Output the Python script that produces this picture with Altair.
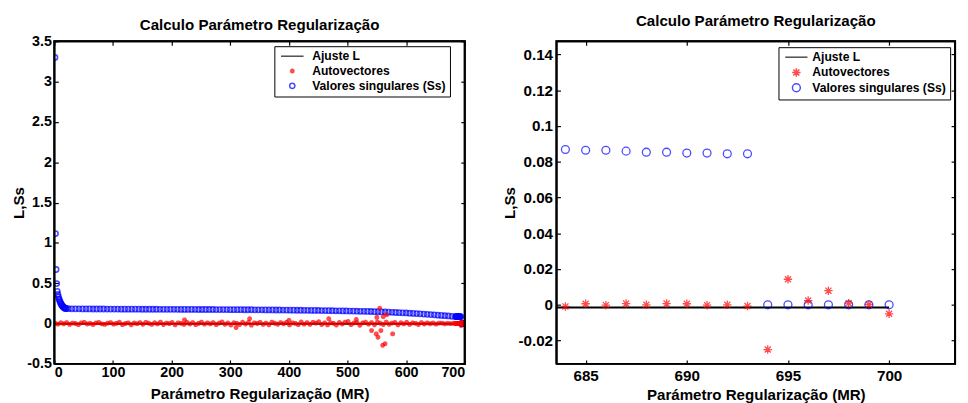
import altair as alt
import pandas as pd

FONT = "Liberation Sans"
SERIES = ["Ajuste L", "Autovectores", "Valores singulares (Ss)"]
COLORS = ["#000000", "#ff0000", "#0000ff"]
TITLE = "Calculo Parámetro Regularização"
XTITLE = "Parámetro Regularização (MR)"
YTITLE = "L,Ss"

# ---- Ajuste L (fitted line) ----
fit_x = [1, 700]
fit_y = [-0.0015, -0.0015]

# ---- Valores singulares (Ss) ----
ss_x_head = list(range(1, 21))
ss_y_head = [3.30, 1.115, 0.67, 0.495, 0.40, 0.36, 0.33, 0.305, 0.285, 0.265,
             0.25, 0.237, 0.225, 0.215, 0.207, 0.20, 0.195, 0.191, 0.188, 0.186]
ss_x_body = list(range(24, 679, 6))
ss_y_body = [0.184, 0.183, 0.182, 0.182, 0.181, 0.181, 0.181, 0.180, 0.180, 0.180,
             0.180, 0.179, 0.179, 0.179, 0.179, 0.178, 0.178, 0.178, 0.178, 0.178,
             0.178, 0.177, 0.177, 0.177, 0.177, 0.177, 0.176, 0.176, 0.176, 0.176,
             0.176, 0.176, 0.175, 0.175, 0.175, 0.175, 0.175, 0.174, 0.174, 0.174,
             0.174, 0.174, 0.173, 0.173, 0.173, 0.173, 0.172, 0.172, 0.172, 0.172,
             0.171, 0.171, 0.171, 0.170, 0.170, 0.170, 0.169, 0.169, 0.169, 0.168,
             0.168, 0.167, 0.167, 0.166, 0.166, 0.165, 0.165, 0.164, 0.164, 0.163,
             0.163, 0.162, 0.161, 0.161, 0.160, 0.159, 0.158, 0.158, 0.157, 0.156,
             0.155, 0.154, 0.153, 0.152, 0.151, 0.150, 0.149, 0.147, 0.146, 0.144,
             0.143, 0.141, 0.139, 0.137, 0.135, 0.133, 0.131, 0.128, 0.126, 0.123,
             0.120, 0.117, 0.114, 0.111, 0.108, 0.104, 0.101, 0.097, 0.094, 0.090]
ss_x_tail = list(range(684, 701))
ss_y_tail = [0.0868, 0.0864, 0.0864, 0.0859, 0.0853, 0.0853, 0.0848, 0.0848, 0.0844, 0.0844,
             0.0, 0.0, 0.0, 0.0, 0.0, 0.0, 0.0]

# ---- Autovectores ----
av_x_body = list(range(1, 682, 5))
av_y_body = [0.004, -0.008, 0.010, -0.003, 0.012, -0.011, 0.006, 0.000, -0.014, 0.009,
             0.015, -0.006, 0.002, -0.012, 0.008, 0.013, -0.004, -0.010, 0.005, 0.011,
             -0.007, 0.003, 0.016, -0.013, 0.001, 0.009, -0.015, 0.007, -0.002, 0.012,
             -0.009, 0.014, 0.004, -0.011, 0.010, -0.005, 0.018, -0.012, 0.006, -0.001,
             0.013, -0.016, 0.008, 0.003, -0.010, 0.015, -0.006, 0.011, -0.013, 0.002,
             0.017, -0.008, 0.009, -0.004, 0.012, -0.014, 0.005, 0.020, -0.009, 0.007,
             -0.018, 0.010, 0.003, -0.012, 0.016, -0.006, 0.013, -0.020, 0.008, 0.001,
             0.014, -0.011, 0.006, -0.015, 0.018, 0.004, -0.009, 0.012, -0.003, 0.015,
             -0.017, 0.009, 0.002, -0.013, 0.019, -0.007, 0.011, -0.010, 0.014, 0.005,
             0.022, -0.012, 0.008, -0.016, 0.010, 0.003, -0.019, 0.013, -0.006, 0.017,
             0.025, -0.014, 0.007, 0.012, -0.021, 0.009, 0.016, -0.008, 0.011, -0.015,
             0.020, 0.004, -0.012, 0.018, -0.009, 0.006, 0.013, -0.017, 0.010, -0.004,
             0.014, -0.010, 0.008, 0.003, -0.012, 0.011, -0.006, 0.009, -0.003, 0.007,
             -0.008, 0.005, 0.006, -0.004, 0.003, -0.002, 0.004]
av_x_spikes = [222, 310, 333, 400, 468, 515, 541, 549, 550, 552, 555, 557, 560, 561, 564, 567, 577]
av_y_spikes = [0.045, -0.05, 0.06, 0.04, 0.06, 0.05, -0.087, -0.128, 0.076, -0.17, 0.19, -0.087,
               -0.27, 0.085, -0.25, 0.11, -0.128]
av_x_tail = list(range(684, 701))
av_y_tail = [-0.0009, 0.0006, -0.0002, 0.0007, 0.0, 0.0007, 0.0006, -0.0002, 0.0, -0.0007,
             -0.025, 0.0143, 0.0024, 0.0079, 0.0009, 0.0002, -0.005]

rows = []
for xs_, ys_ in [(ss_x_head, ss_y_head), (ss_x_body, ss_y_body), (ss_x_tail, ss_y_tail)]:
    rows += [{"x": a, "y": b, "series": SERIES[2]} for a, b in zip(xs_, ys_)]
for xs_, ys_ in [(av_x_body, av_y_body), (av_x_spikes, av_y_spikes), (av_x_tail, av_y_tail)]:
    rows += [{"x": a, "y": b, "series": SERIES[1]} for a, b in zip(xs_, ys_)]
df_pts = pd.DataFrame(rows)
df_fit = pd.DataFrame({"x": fit_x, "y": fit_y, "series": SERIES[0]})

ASTER = "M0,-1L0,1M-1,0L1,0M-0.72,-0.72L0.72,0.72M-0.72,0.72L0.72,-0.72"
NB = "\u00a0"
BLK = "#000000"


def panel(xdom, ydom, xticks, yticks, width, height, tick_fs, line_path, sizes,
          sym_size, lx, ly, pt_sw, xlab_pad, ylab_pad, row_pad, lab_off,
          xt_pad, yt_pad, title_off):
    cscale = alt.Scale(domain=SERIES, range=COLORS)
    shscale = alt.Scale(domain=SERIES, range=[line_path, ASTER, "circle"])
    leg = alt.Legend(title=None, orient="none", legendX=lx, legendY=ly,
                     labelFont=FONT, labelFontSize=12.3, labelFontWeight="bold",
                     strokeColor=BLK, fillColor="white", padding=4, symbolSize=sym_size,
                     symbolStrokeWidth=1.5, symbolOffset=8, labelOffset=lab_off,
                     rowPadding=row_pad,
                     labelExpr="datum.label == 'Autovectores' ? '" + NB + "Autovectores' : datum.label")
    xs = alt.Scale(domain=xdom, nice=False, zero=False)
    ys = alt.Scale(domain=ydom, nice=False, zero=False)
    common = dict(offset=-4, tickSize=4, domain=False, grid=False, tickColor=BLK,
                  tickWidth=1.2)
    ax_b = alt.Axis(orient="bottom", values=xticks, labelExpr="datum.value + ''",
                    labelPadding=xlab_pad, labelFont=FONT, labelFontSize=tick_fs,
                    labelFontWeight="bold", labelColor=BLK, title=XTITLE,
                    titleFont=FONT, titleFontSize=15.3, titleFontWeight="bold",
                    titleColor=BLK, titlePadding=xt_pad, **common)
    ax_t = alt.Axis(orient="top", values=xticks, labels=False, title=None, **common)
    ax_l = alt.Axis(orient="left", values=yticks, labelExpr="datum.value + ''",
                    labelPadding=ylab_pad, labelFont=FONT, labelFontSize=tick_fs,
                    labelFontWeight="bold", labelColor=BLK, title=YTITLE,
                    titleFont=FONT, titleFontSize=15.3, titleFontWeight="bold",
                    titleColor=BLK, titlePadding=yt_pad, **common)
    ax_r = alt.Axis(orient="right", values=yticks, labels=False, title=None, **common)

    line = alt.Chart(df_fit).mark_line(strokeWidth=2, clip=True).encode(
        x=alt.X("x:Q", scale=xs, axis=ax_b),
        y=alt.Y("y:Q", scale=ys, axis=ax_l),
        color=alt.Color("series:N", scale=cscale, legend=leg),
    )
    pts = alt.Chart(df_pts).mark_point(filled=False, clip=True, strokeWidth=pt_sw).encode(
        x=alt.X("x:Q", scale=xs, axis=ax_t),
        y=alt.Y("y:Q", scale=ys, axis=ax_r),
        color=alt.Color("series:N", scale=cscale, legend=leg),
        shape=alt.Shape("series:N", scale=shscale, legend=leg),
        size=alt.Size("series:N", scale=alt.Scale(domain=SERIES, range=sizes), legend=None),
    )
    # plot frame: the axis box along the scale domain limits
    df_box = pd.DataFrame({"x0": [xdom[0]], "x1": [xdom[1]], "y0": [ydom[0]], "y1": [ydom[1]]})
    frame_rect = alt.Chart(df_box).mark_rect(fillOpacity=0, stroke=BLK, strokeWidth=2).encode(
        x=alt.X("x0:Q", scale=xs, axis=None), x2="x1:Q",
        y=alt.Y("y0:Q", scale=ys, axis=None), y2="y1:Q",
    )
    df_edge = pd.DataFrame({
        "bx": [xdom[0], xdom[1], xdom[1], xdom[0], xdom[0]],
        "by": [ydom[0], ydom[0], ydom[1], ydom[1], ydom[0]],
        "k": [0, 1, 2, 3, 4],
    })
    frame_line = alt.Chart(df_edge).mark_line(color=BLK, strokeWidth=2).encode(
        x=alt.X("bx:Q", scale=xs, axis=None),
        y=alt.Y("by:Q", scale=ys, axis=None),
        order="k:Q",
    )
    tp = alt.TitleParams(TITLE, font=FONT, fontSize=15.3, fontWeight="bold",
                         color=BLK, frame="group", anchor="middle", offset=title_off)
    return alt.layer(line, pts, frame_rect, frame_line).resolve_axis(
        x="independent", y="independent").properties(width=width, height=height, title=tp)


left = panel([0, 700], [-0.5, 3.5], [0, 100, 200, 300, 400, 500, 600, 700],
             [-0.5, 0, 0.5, 1, 1.5, 2, 2.5, 3, 3.5], 416, 327, 14.5,
             "M-5.1,0L5.1,0", [20, 28, 20], 20, 223, 5, 1.6, 2, 3, 2,
             14, 8, 0, 0)
right = panel([683.56, 703.26], [-0.033, 0.1473], [685, 690, 695, 700],
              [-0.02, 0, 0.02, 0.04, 0.06, 0.08, 0.1, 0.12, 0.14], 404, 327, 15.4,
              "M-2.5,0L2.5,0", [81, 64, 81], 81, 225, 6, 1.3, 5, 4, 0.5,
              10, 4, 1, 8)

chart = alt.hconcat(left, right, spacing=93, bounds="flush").resolve_scale(
    color="independent", shape="independent", size="independent"
).properties(
    padding={"left": 3, "top": 3, "right": 0, "bottom": 0}
).configure(background="white")

chart.save("out.html", embed_options={"renderer": "svg", "actions": False})
